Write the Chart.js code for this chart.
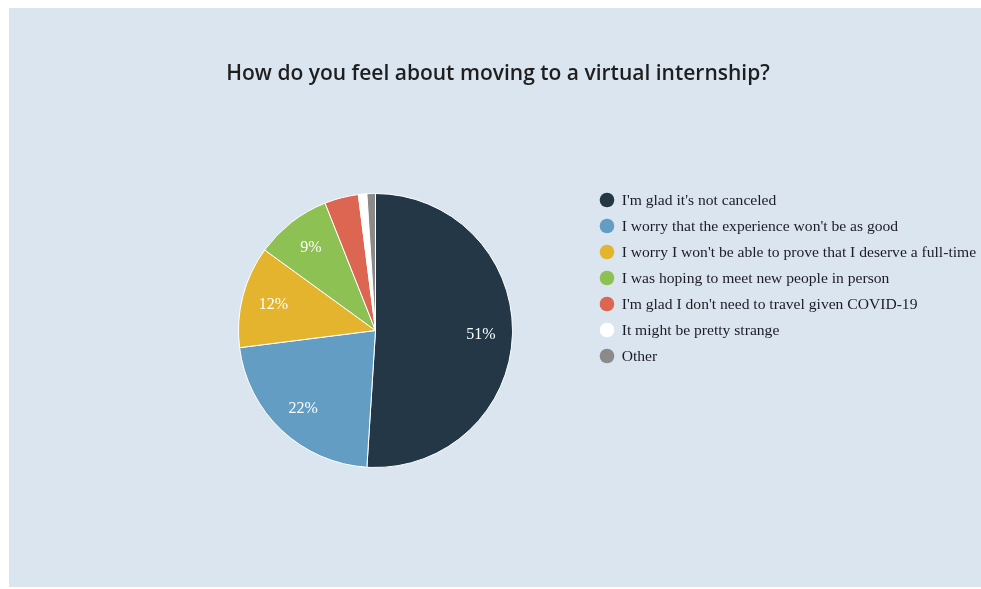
<!DOCTYPE html>
<html>
<head>
<meta charset="utf-8">
<script src="https://cdn.jsdelivr.net/npm/chart.js@4.4.1/dist/chart.umd.min.js"></script>
<style>
  html, body { margin: 0; padding: 0; background: #ffffff; }
  #panel { position: absolute; left: 9px; top: 8px; width: 972px; height: 579px; background: #dbe5ef; }
  canvas { display: block; }
</style>
</head>
<body>
<div id="panel"><canvas id="c" width="972" height="579"></canvas></div>
<script>
const titleText = "How do you feel about moving to a virtual internship?";
const categories = [
  "I'm glad it's not canceled",
  "I worry that the experience won't be as good",
  "I worry I won't be able to prove that I deserve a full-time",
  "I was hoping to meet new people in person",
  "I'm glad I don't need to travel given COVID-19",
  "It might be pretty strange",
  "Other"
];
const values = [51, 22, 12, 9, 4, 1, 1];
const colors = ["#243746", "#639dc4", "#e4b42f", "#8ec154", "#dc6651", "#ffffff", "#8a8a8a"];

const overlay = {
  id: 'overlay',
  afterDatasetsDraw(chart) {
    const ctx = chart.ctx;
    const meta = chart.getDatasetMeta(0);
    const data = chart.data.datasets[0].data;
    const total = data.reduce((a, b) => a + b, 0);
    ctx.save();
    // slice percentage labels
    ctx.fillStyle = '#ffffff';
    ctx.font = '16px "Liberation Serif", "Times New Roman", serif';
    ctx.textAlign = 'center';
    ctx.textBaseline = 'middle';
    meta.data.forEach((arc, i) => {
      const pct = data[i] / total * 100;
      if (pct < 5) return;
      const p = arc.getProps(['x', 'y', 'startAngle', 'endAngle', 'outerRadius'], true);
      const a = (p.startAngle + p.endAngle) / 2;
      const r = p.outerRadius * 0.77;
      ctx.fillText(Math.round(pct) + '%', p.x + Math.cos(a) * r, p.y + Math.sin(a) * r + 1);
    });
    // title
    ctx.fillStyle = '#1e1e1e';
    ctx.font = '600 21px "Open Sans", Lato, sans-serif';
    ctx.textAlign = 'center';
    ctx.fillText(titleText, 489, 66);
    // legend
    ctx.font = '15.6px "Liberation Serif", "Times New Roman", serif';
    ctx.textAlign = 'left';
    chart.data.labels.forEach((lab, i) => {
      const y = 192 + i * 26;
      ctx.beginPath();
      ctx.arc(598, y, 7.3, 0, Math.PI * 2);
      ctx.fillStyle = colors[i];
      ctx.fill();
      ctx.fillStyle = '#1c1c24';
      ctx.fillText(lab, 612.7, y + 1);
    });
    ctx.restore();
  }
};

new Chart(document.getElementById('c'), {
  type: 'pie',
  data: {
    labels: categories,
    datasets: [{
      data: values,
      backgroundColor: colors,
      borderColor: '#ffffff',
      borderWidth: 1,
      hoverOffset: 0
    }]
  },
  options: {
    responsive: false,
    animation: false,
    layout: { padding: { left: 229, right: 468, top: 185, bottom: 119 } },
    plugins: {
      legend: { display: false },
      title: { display: false },
      tooltip: { enabled: false }
    }
  },
  plugins: [overlay]
});
</script>
</body>
</html>
